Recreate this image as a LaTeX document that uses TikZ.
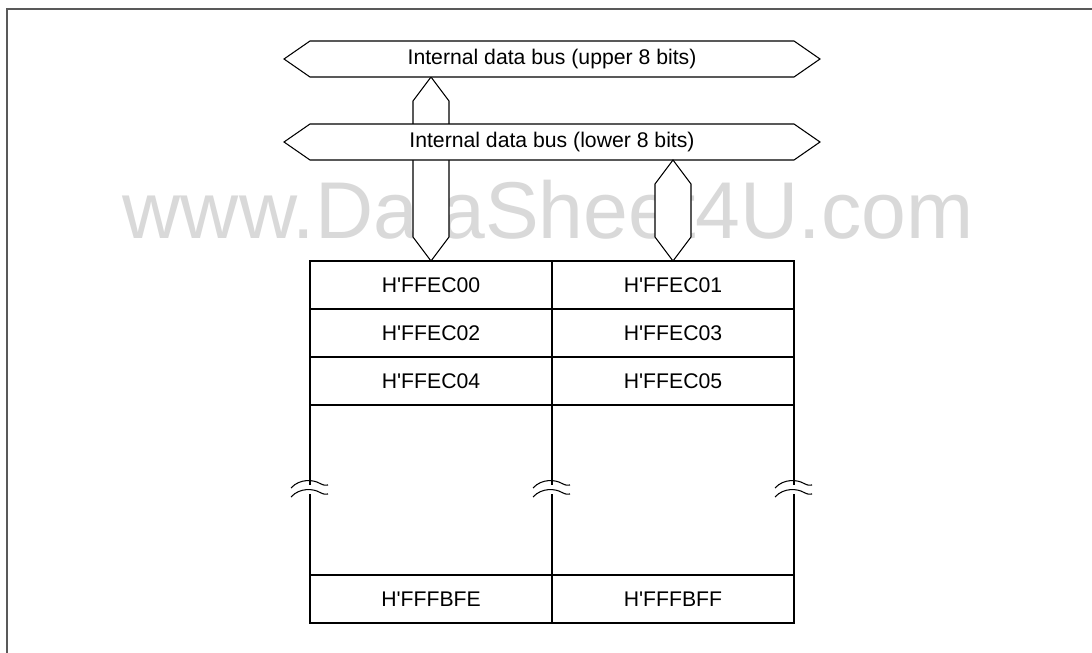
\documentclass[tikz,border=0pt]{standalone}
\usepackage{fontspec}
\setmainfont{Liberation Sans}[Ligatures=TeXOff]
\begin{document}
\begin{tikzpicture}[x=0.75pt,y=-0.75pt,
  bus/.style={draw=black, fill=white, line width=0.8pt, line join=miter},
  cell/.style={draw=black, line width=0.8pt, minimum width=181.5pt, minimum height=36pt, inner sep=0pt, outer sep=0pt, font=\fontsize{15.9}{18}\selectfont},
  lbl/.style={font=\fontsize{15.9}{18}\selectfont, inner sep=0pt},
  brk/.style={draw=black, line width=0.8pt},
  frameline/.style={draw=gray!70!black, line width=0.9pt},
  wm/.style={text=black!15, font=\fontsize{60.4}{70}\selectfont, inner sep=0pt}]
\fill[white] (0,0) rectangle (1092,653);
\useasboundingbox (0,0) rectangle (1092,653);
% frame
\draw[frameline] (7,653) -- (7,9) -- (1092,9);
% watermark
\node[wm, anchor=base] (wm) at (548,238) {www.DataSheet4U.com};
% left vertical stub (upper bus to table)
\draw[bus] (431,77) -- (449,101) -- (449,237) -- (431,261) -- (413,237) -- (413,101) -- cycle;
% upper bus
\draw[bus] (284,59) -- (310,41) -- (794,41) -- (820,59) -- (794,77) -- (310,77) -- cycle;
\node[lbl] (ub) at (552,59) {Internal data bus (upper 8 bits)};
% lower bus
\draw[bus] (284,142) -- (310,124) -- (794,124) -- (820,142) -- (794,160) -- (310,160) -- cycle;
\node[lbl] (lb) at (552,142) {Internal data bus (lower 8 bits)};
% right vertical stub (lower bus to table)
\draw[bus] (673,160) -- (691,184) -- (691,237) -- (673,261) -- (655,237) -- (655,184) -- cycle;
% table cells
\node[cell] (c00) at (431,285) {H'FFEC00};
\node[cell] (c01) at (673,285) {H'FFEC01};
\node[cell] (c02) at (431,333) {H'FFEC02};
\node[cell] (c03) at (673,333) {H'FFEC03};
\node[cell] (c04) at (431,381) {H'FFEC04};
\node[cell] (c05) at (673,381) {H'FFEC05};
\node[cell] (cfe) at (431,599) {H'FFFBFE};
\node[cell] (cff) at (673,599) {H'FFFBFF};
% middle block with breaks
\foreach \xx in {310,552,794}{
  \draw[brk] (\xx,405) -- (\xx,485);
  \draw[brk] (\xx,494) -- (\xx,575);
  \draw[brk] (\xx-19,488) .. controls (\xx-10,478) and (\xx+4,480) .. (\xx+9,483) .. controls (\xx+13,485) and (\xx+16,486) .. (\xx+18,485);
  \draw[brk] (\xx-19,497) .. controls (\xx-10,487) and (\xx+4,489) .. (\xx+9,492) .. controls (\xx+13,494) and (\xx+16,495) .. (\xx+18,494);
}
\end{tikzpicture}
\end{document}
